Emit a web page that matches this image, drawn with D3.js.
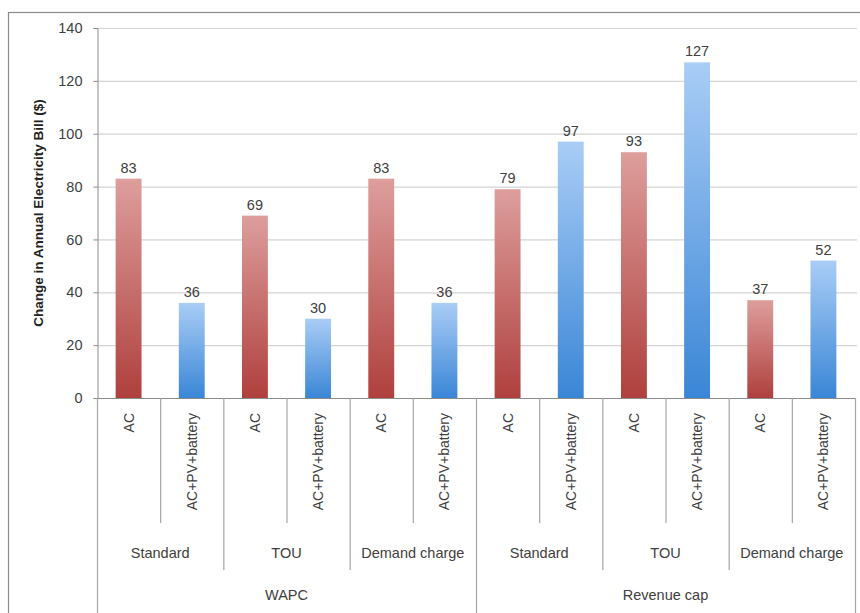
<!DOCTYPE html>
<html><head><meta charset="utf-8">
<script src="https://cdn.jsdelivr.net/npm/d3@7"></script>
<style>body{margin:0;background:#fff}svg{display:block}</style>
</head><body>
<script>
const groups = ["WAPC", "Revenue cap"];
const tariffs = ["Standard", "TOU", "Demand charge"];
const techs = ["AC", "AC+PV+battery"];
const values = [83, 36, 69, 30, 83, 36, 79, 97, 93, 127, 37, 52];
const yTicks = [0, 20, 40, 60, 80, 100, 120, 140];
const yTitle = "Change in Annual Electricity Bill ($)";

const W = 860, H = 613;
const svg = d3.select("body").append("svg").attr("width", W).attr("height", H);
const FONT = "Liberation Sans, Arial, sans-serif";

// outer frame
svg.append("rect").attr("x", 8.5).attr("y", 12.5).attr("width", 860).attr("height", 620)
  .attr("fill", "#fff").attr("stroke", "#8c8c8c").attr("stroke-width", 1.2);

const rows = [];
groups.forEach((g, gi) => tariffs.forEach((t, ti) => techs.forEach((c, ci) => {
  rows.push({g, t, c, v: values[rows.length], idx: rows.length});
})));

const L = 97, R = 855, T = 28, B = 398;
const x = d3.scaleBand().domain(rows.map(d => d.idx)).range([L, R]).paddingInner(0.59).paddingOuter(0.295);
const y = d3.scaleLinear().domain([0, 140]).range([B, T]);
const step = x.step();

const defs = svg.append("defs");
const gr = defs.append("linearGradient").attr("id", "gRed").attr("x1", 0).attr("y1", 0).attr("x2", 0).attr("y2", 1);
gr.append("stop").attr("offset", 0).attr("stop-color", "#DD9E9C");
gr.append("stop").attr("offset", 1).attr("stop-color", "#AF403D");
const gb = defs.append("linearGradient").attr("id", "gBlue").attr("x1", 0).attr("y1", 0).attr("x2", 0).attr("y2", 1);
gb.append("stop").attr("offset", 0).attr("stop-color", "#A9CDF6");
gb.append("stop").attr("offset", 1).attr("stop-color", "#3A86D6");

// gridlines
svg.append("g").selectAll("line").data(yTicks.filter(d => d > 0)).join("line")
  .attr("x1", L).attr("x2", R + 2).attr("y1", d => y(d) + 0.5).attr("y2", d => y(d) + 0.5)
  .attr("stroke", "#d4d4d4").attr("stroke-width", 1.2);

// y axis
const ya = svg.append("g").attr("transform", `translate(${L + 0.5},0)`)
  .call(d3.axisLeft(y).tickValues(yTicks).tickSize(4).tickPadding(11));
ya.select(".domain").attr("stroke", "#8c8c8c");
ya.selectAll(".tick line").attr("stroke", "#8c8c8c");
ya.selectAll(".tick text").attr("font-family", FONT).attr("font-size", 14.5).attr("fill", "#404040");

svg.append("text").attr("transform", `translate(43,${(T + B) / 2}) rotate(-90)`)
  .attr("text-anchor", "middle").attr("font-family", FONT).attr("font-size", 13.5)
  .attr("font-weight", "bold").attr("fill", "#222").text(yTitle);

// bars
svg.append("g").selectAll("rect").data(rows).join("rect")
  .attr("x", d => x(d.idx)).attr("width", x.bandwidth())
  .attr("y", d => y(d.v)).attr("height", d => y(0) - y(d.v))
  .attr("fill", d => d.c === "AC" ? "url(#gRed)" : "url(#gBlue)");

// value labels
svg.append("g").selectAll("text").data(rows).join("text")
  .attr("x", d => x(d.idx) + x.bandwidth() / 2).attr("y", d => y(d.v) - 6)
  .attr("text-anchor", "middle").attr("font-family", FONT).attr("font-size", 14.5)
  .attr("fill", "#404040").text(d => d.v);

// x axis baseline
svg.append("line").attr("x1", L).attr("x2", R).attr("y1", B + 0.5).attr("y2", B + 0.5)
  .attr("stroke", "#8c8c8c").attr("stroke-width", 1.2);

// category separators
const bounds = d3.range(rows.length + 1);
svg.append("g").selectAll("line").data(bounds).join("line")
  .attr("x1", k => L + k * step + 0.5).attr("x2", k => L + k * step + 0.5)
  .attr("y1", B).attr("y2", k => (k % 6 === 0) ? H : (k % 2 === 0 ? 570 : 523))
  .attr("stroke", "#a6a6a6").attr("stroke-width", 1.2);

// tech labels
svg.append("g").selectAll("text").data(rows).join("text")
  .attr("transform", d => `translate(${L + (d.idx + 0.5) * step + 5},413) rotate(-90)`)
  .attr("text-anchor", "end").attr("font-family", FONT).attr("font-size", 14)
  .attr("fill", "#404040").text(d => d.c);

// tariff labels
const tRows = [];
groups.forEach((g, gi) => tariffs.forEach((t, ti) => tRows.push({t, i: gi * 3 + ti})));
svg.append("g").selectAll("text").data(tRows).join("text")
  .attr("x", d => L + (d.i * 2 + 1) * step).attr("y", 558)
  .attr("text-anchor", "middle").attr("font-family", FONT).attr("font-size", 14.5)
  .attr("fill", "#404040").text(d => d.t);

// group labels
svg.append("g").selectAll("text").data(groups).join("text")
  .attr("x", (d, i) => L + (i * 6 + 3) * step).attr("y", 600)
  .attr("text-anchor", "middle").attr("font-family", FONT).attr("font-size", 14.5)
  .attr("fill", "#404040").text(d => d);
</script>
</body></html>
